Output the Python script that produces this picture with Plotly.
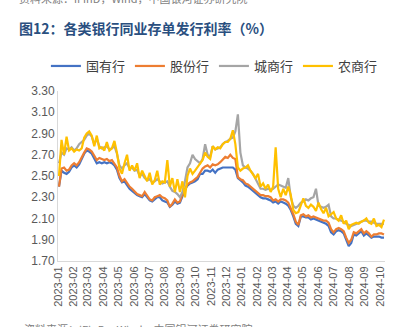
import pandas as pd
import plotly.graph_objects as go

# observation dates (sampled every 5 days)
dates = pd.date_range("2023-01-03", periods=130, freq="5D")

tick_labels = ["2023-01", "2023-02", "2023-03", "2023-04", "2023-05", "2023-06",
               "2023-07", "2023-08", "2023-09", "2023-10", "2023-11", "2023-12",
               "2024-01", "2024-02", "2024-03", "2024-04", "2024-05", "2024-06",
               "2024-07", "2024-08", "2024-09", "2024-10"]

# 国有行
state_owned = [2.40, 2.55, 2.53, 2.52, 2.54, 2.58, 2.60, 2.58, 2.61, 2.66,
               2.71, 2.74, 2.73, 2.71, 2.66, 2.62, 2.63, 2.62, 2.63, 2.62,
               2.63, 2.62, 2.60, 2.56, 2.48, 2.44, 2.45, 2.41, 2.38, 2.36,
               2.34, 2.32, 2.31, 2.30, 2.33, 2.30, 2.27, 2.26, 2.28, 2.30,
               2.30, 2.27, 2.26, 2.25, 2.21, 2.23, 2.26, 2.24, 2.25, 2.32,
               2.37, 2.41, 2.43, 2.44, 2.45, 2.47, 2.52, 2.52, 2.55, 2.55,
               2.54, 2.56, 2.53, 2.56, 2.57, 2.58, 2.58, 2.58, 2.58, 2.58,
               2.56, 2.48, 2.46, 2.44, 2.41, 2.40, 2.38, 2.36, 2.34, 2.32,
               2.30, 2.29, 2.29, 2.28, 2.27, 2.25, 2.26, 2.24, 2.26, 2.25,
               2.24, 2.22, 2.18, 2.12, 2.05, 2.03, 2.12, 2.12, 2.11, 2.11,
               2.09, 2.10, 2.09, 2.08, 2.07, 2.06, 2.05, 2.03, 1.97, 1.95,
               1.98, 1.99, 1.98, 1.96, 1.89, 1.84, 1.87, 1.95, 1.94, 1.96,
               1.98, 1.94, 1.96, 1.94, 1.92, 1.93, 1.93, 1.93, 1.92, 1.92]

# 股份行
joint_stock = [2.40, 2.57, 2.58, 2.55, 2.56, 2.60, 2.62, 2.60, 2.63, 2.68,
               2.72, 2.76, 2.75, 2.73, 2.69, 2.65, 2.67, 2.66, 2.65, 2.66,
               2.64, 2.65, 2.62, 2.58, 2.50, 2.45, 2.47, 2.43, 2.40, 2.38,
               2.35, 2.33, 2.32, 2.31, 2.35, 2.31, 2.28, 2.27, 2.30, 2.31,
               2.32, 2.30, 2.29, 2.27, 2.21, 2.24, 2.28, 2.25, 2.26, 2.33,
               2.38, 2.42, 2.44, 2.45, 2.47, 2.49, 2.53, 2.57, 2.59, 2.60,
               2.58, 2.61, 2.60, 2.61, 2.63, 2.66, 2.68, 2.67, 2.70, 2.67,
               2.66, 2.49, 2.47, 2.46, 2.43, 2.42, 2.40, 2.38, 2.36, 2.34,
               2.32, 2.32, 2.31, 2.31, 2.30, 2.27, 2.28, 2.26, 2.28, 2.28,
               2.27, 2.25, 2.20, 2.14, 2.07, 2.04, 2.13, 2.14, 2.12, 2.13,
               2.11, 2.12, 2.11, 2.10, 2.09, 2.08, 2.08, 2.06, 2.00, 1.97,
               2.00, 2.01, 2.00, 1.98, 1.92, 1.87, 1.90, 1.97, 1.96, 1.98,
               2.00, 1.96, 1.98, 1.96, 1.93, 1.95, 1.95, 1.96, 1.96, 1.95]

# 城商行
city_comm = [2.62, 2.72, 2.70, 2.76, 2.75, 2.77, 2.74, 2.76, 2.80, 2.82,
             2.84, 2.88, 2.90, 2.87, 2.80, 2.85, 2.78, 2.76, 2.77, 2.78,
             2.75, 2.76, 2.78, 2.71, 2.60, 2.57, 2.60, 2.62, 2.57, 2.58,
             2.55, 2.56, 2.50, 2.52, 2.48, 2.46, 2.47, 2.44, 2.45, 2.47,
             2.45, 2.43, 2.44, 2.45, 2.40, 2.36, 2.35, 2.33, 2.30, 2.35,
             2.45, 2.58, 2.62, 2.70, 2.66, 2.64, 2.62, 2.66, 2.80, 2.70,
             2.68, 2.78, 2.75, 2.76, 2.77, 2.80, 2.82, 2.83, 2.85, 2.86,
             2.92, 3.08, 2.72, 2.60, 2.58, 2.57, 2.55, 2.52, 2.47, 2.43,
             2.38, 2.38, 2.37, 2.38, 2.37, 2.38, 2.40, 2.42, 2.41, 2.40,
             2.39, 2.48, 2.30, 2.22, 2.20, 2.22, 2.25, 2.26, 2.28, 2.27,
             2.29, 2.30, 2.38, 2.22, 2.21, 2.20, 2.21, 2.23, 2.12, 2.10,
             2.10, 2.09, 2.08, 2.07, 2.05, 2.04, 2.03, 2.04, 2.05, 2.06,
             2.07, 2.08, 2.08, 2.07, 2.07, 2.06, 2.05, 2.05, 2.05, 2.05]

# 农商行
rural_comm = [2.50, 2.84, 2.70, 2.87, 2.74, 2.76, 2.73, 2.75, 2.74, 2.76,
              2.86, 2.90, 2.92, 2.88, 2.78, 2.88, 2.76, 2.77, 2.74, 2.82,
              2.74, 2.76, 2.83, 2.72, 2.57, 2.52, 2.62, 2.70, 2.55, 2.60,
              2.55, 2.62, 2.48, 2.55, 2.50, 2.45, 2.53, 2.42, 2.46, 2.55,
              2.42, 2.45, 2.44, 2.65, 2.40, 2.48, 2.35, 2.47, 2.35, 2.45,
              2.30, 2.50, 2.57, 2.52, 2.55, 2.58, 2.62, 2.65, 2.72, 2.68,
              2.66, 2.78, 2.75, 2.77, 2.76, 2.80, 2.82, 2.82, 2.85, 2.93,
              2.80, 2.58, 2.55, 2.57, 2.58, 2.60, 2.55, 2.52, 2.48, 2.52,
              2.40, 2.43, 2.38, 2.42, 2.35, 2.40, 2.77, 2.38, 2.30, 2.38,
              2.32, 2.40, 2.32, 2.18, 2.15, 2.16, 2.22, 2.29, 2.22, 2.20,
              2.23, 2.21, 2.17, 2.25, 2.19, 2.15, 2.20, 2.12, 2.14, 2.16,
              2.10, 2.08, 2.13, 2.05, 2.08, 2.00, 2.04, 2.05, 2.06, 2.05,
              2.07, 2.08, 2.10, 2.06, 2.05, 2.10, 2.03, 2.04, 2.02, 2.09]

series = [("国有行", state_owned, "#4472C4"),
          ("股份行", joint_stock, "#ED7D31"),
          ("城商行", city_comm, "#A5A5A5"),
          ("农商行", rural_comm, "#FFC000")]

fig = go.Figure()
for name, vals, color in series:
    fig.add_trace(go.Scatter(x=dates, y=vals, name=name, mode="lines",
                             line=dict(color=color, width=2.2)))

cjk = "Noto Sans CJK SC"
num_font = "Liberation Sans, Arial, sans-serif"

fig.update_layout(
    width=405, height=327,
    margin=dict(l=58, r=20, t=91, b=66),
    paper_bgcolor="white", plot_bgcolor="white",
    showlegend=True,
    legend=dict(orientation="h", x=-0.037, xanchor="left", y=1.147, yanchor="middle",
                font=dict(family=cjk, size=13, color="#404040"),
                bgcolor="rgba(0,0,0,0)", traceorder="normal"),
    xaxis=dict(type="date", range=["2023-01-01", "2024-10-11"],
               tickvals=[t + "-01" for t in tick_labels], ticktext=tick_labels,
               tickangle=-90, tickfont=dict(family=num_font, size=11, color="#595959"),
               showgrid=False, zeroline=False, showline=True, linecolor="#D9D9D9",
               linewidth=1, ticks=""),
    yaxis=dict(range=[1.70, 3.30], dtick=0.2, tick0=1.70, tickformat=".2f",
               tickfont=dict(family=num_font, size=12, color="#595959"),
               showgrid=False, zeroline=False, showline=True, linecolor="#D9D9D9",
               linewidth=1, ticks=""),
    annotations=[
        dict(text="<b>图12：各类银行同业存单发行利率（%）</b>", xref="paper", yref="paper",
             x=(17 - 58) / 327, y=(261 - 28) / 170, xanchor="left", yanchor="middle",
             showarrow=False, font=dict(family=cjk, size=14, color="#2A4F7F")),
        dict(text="资料来源：iFinD，Wind，中国银河证券研究院", xref="paper", yref="paper",
             x=(17 - 58) / 327, y=(261 + 2) / 170, xanchor="left", yanchor="middle",
             showarrow=False, font=dict(family=cjk, size=11, color="#7F7F7F")),
        dict(text="资料来源：iFinD，Wind，中国银河证券研究院", xref="paper", yref="paper",
             x=(22 - 58) / 327, y=(261 - 329) / 170, xanchor="left", yanchor="middle",
             showarrow=False, font=dict(family=cjk, size=11, color="#7F7F7F")),
    ],
)

fig.write_html("out.html")
